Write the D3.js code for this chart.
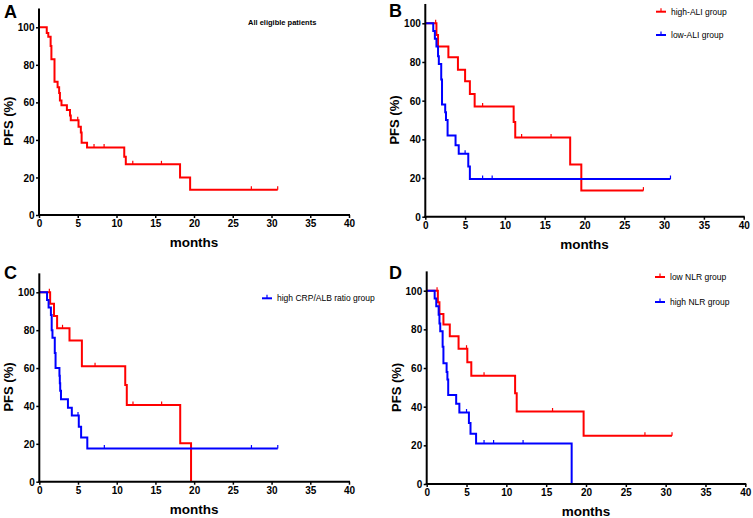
<!DOCTYPE html>
<html><head><meta charset="utf-8">
<script src="https://cdn.jsdelivr.net/npm/d3@7"></script>
<style>body{margin:0;background:#fff}svg{display:block}text{font-family:"Liberation Sans",Arial,sans-serif}</style>
</head><body>
<script>
// ---------- data ----------
const xTicks = [0,5,10,15,20,25,30,35,40];
const yTicks = [0,20,40,60,80,100];

// Panel A: all eligible patients
const timesA = [0,1.0,1.2,1.5,1.6,2.0,2.4,2.6,2.7,2.9,3.6,4.0,4.1,5.1,5.4,5.5,6.2,11.0,11.2,18.2,19.5,30.8];
const survA  = [100,97,95,90,83,71,68,65,61,58.5,56,53,50.5,47,44,38.5,36,31,27,20,13.5,13.5];
const censA  = [5.0,7.1,8.4,12.1,15.8,27.4,30.8];

// Panel B: ALI
const timesBhigh = [0,1.4,1.6,2.9,4.1,5.0,5.6,6.2,11.1,11.3,18.2,19.6,27.4];
const survBhigh  = [100,94,88,82.5,76,70,63.5,57,49,41,27,13.5,13.5];
const censBhigh  = [1.3,7.2,12.1,15.8,27.4];
const timesBlow  = [0,1.0,1.2,1.4,1.6,1.7,2.0,2.1,2.5,2.6,2.8,3.8,4.2,5.4,5.6,30.8];
const survBlow   = [100,96,92,88,83,79,71,58,54,50,42,37,32.5,26,19.5,19.5];
const censBlow   = [5.0,7.2,8.4,30.8];

// Panel C: CRP/ALB
const timesClow  = [0,1.4,1.9,2.3,3.9,5.5,11.1,11.3,18.2,19.6];
const survClow   = [100,94,87.5,81,74.5,61,51,40.5,20.3,0];
const censClow   = [1.3,3.0,7.2,12.1,15.8];
const timesChigh = [0,1.0,1.2,1.5,1.6,1.7,2.0,2.1,2.6,2.65,2.7,2.8,3.7,4.2,5.1,5.4,6.2,30.8];
const survChigh  = [100,96,92,88,80,76,68,60,56,52,48,43.5,39,35,29,23.3,17.5,17.5];
const censChigh  = [5.0,8.4,27.4,30.8];

// Panel D: NLR
const timesDlow  = [0,1.4,1.6,2.1,2.9,4.0,5.1,5.6,11.1,11.3,19.7,30.8];
const survDlow   = [100,94,88,82.5,76.5,70,63,56,47,37.5,25,25];
const censDlow   = [1.3,5.0,7.2,15.8,27.4,30.8];
const timesDhigh = [0,1.0,1.2,1.5,1.6,1.7,2.0,2.1,2.5,2.6,2.7,3.7,4.1,5.3,5.5,6.2,18.2];
const survDhigh  = [100,96,92,87.5,83,79,71,62.5,58,54,46,41.5,37,31.5,26,21,0];
const censDhigh  = [5.0,7.2,8.4,12.1];

const RED = "#ff0000", BLUE = "#0000ff";

// ---------- layout ----------
const panels = [
  {label:"A", x0:39, x1:349, y0:215, y100:27.3, lx:4, ly:18,
   series:[{t:timesA,s:survA,c:censA,color:RED}],
   note:{text:"All eligible patients", x:248, y:25}, legend:[]},
  {label:"B", x0:425.3, x1:743.7, y0:216.7, y100:23.3, lx:389, ly:17,
   series:[{t:timesBhigh,s:survBhigh,c:censBhigh,color:RED},{t:timesBlow,s:survBlow,c:censBlow,color:BLUE}],
   legend:[{name:"high-ALI group",color:RED,x:656,y:11.7},{name:"low-ALI group",color:BLUE,x:656,y:35}]},
  {label:"C", x0:39.3, x1:349, y0:481.7, y100:292.3, lx:4, ly:279,
   series:[{t:timesClow,s:survClow,c:censClow,color:RED},{t:timesChigh,s:survChigh,c:censChigh,color:BLUE}],
   legend:[{name:"high CRP/ALB ratio group",color:BLUE,x:262,y:298.3}]},
  {label:"D", x0:426.7, x1:745.3, y0:484, y100:290.7, lx:389, ly:279,
   series:[{t:timesDlow,s:survDlow,c:censDlow,color:RED},{t:timesDhigh,s:survDhigh,c:censDhigh,color:BLUE}],
   legend:[{name:"low NLR group",color:RED,x:655,y:277},{name:"high NLR group",color:BLUE,x:655,y:302}]}
];

const svg = d3.select("body").append("svg").attr("width",753).attr("height",518);

panels.forEach(p => {
  const x = d3.scaleLinear().domain([0,40]).range([p.x0,p.x1]);
  const k = (p.y0 - p.y100)/100;
  const y = d3.scaleLinear().domain([0,110]).range([p.y0, p.y0 - 110*k]);
  const g = svg.append("g");

  // curves
  p.series.forEach(s => {
    const pts = s.t.map((t,i)=>[t,s.s[i]]);
    g.append("path").datum(pts)
      .attr("d", d3.line().x(d=>x(d[0])).y(d=>y(d[1])).curve(d3.curveStepAfter))
      .attr("fill","none").attr("stroke",s.color).attr("stroke-width",2);
    const stepVal = t => { let v = s.s[0]; s.t.forEach((tt,i)=>{ if (tt<=t) v = s.s[i]; }); return v; };
    g.selectAll(null).data(s.c).enter().append("line")
      .attr("x1",d=>x(d)).attr("x2",d=>x(d))
      .attr("y1",d=>y(stepVal(d))-3.5).attr("y2",d=>y(stepVal(d)))
      .attr("stroke",s.color).attr("stroke-width",1.2);
  });

  // axes
  const ax = g.append("g").attr("transform",`translate(0,${p.y0})`)
    .call(d3.axisBottom(x).tickValues(xTicks).tickSize(3).tickPadding(2).tickFormat(d3.format("d")));
  const ay = g.append("g").attr("transform",`translate(${p.x0},0)`)
    .call(d3.axisLeft(y).tickValues(yTicks).tickSize(3).tickPadding(1.5).tickFormat(d3.format("d")));
  [ax,ay].forEach(a=>{
    a.select(".domain").remove();
    a.selectAll(".tick line").attr("stroke","#000").attr("stroke-width",1.5);
    a.selectAll(".tick text").attr("font-size",10).attr("font-weight","bold").attr("fill","#000")
      .attr("font-family",'"Liberation Sans",Arial,sans-serif');
  });
  ay.selectAll(".tick text").attr("dy","0.36em");
  g.append("line").attr("x1",p.x0).attr("x2",p.x0).attr("y1",p.y0+1).attr("y2",y(110))
    .attr("stroke","#000").attr("stroke-width",2);
  g.append("line").attr("x1",p.x0-1).attr("x2",p.x1+1).attr("y1",p.y0).attr("y2",p.y0)
    .attr("stroke","#000").attr("stroke-width",2);

  // axis titles
  g.append("text").attr("x",(p.x0+p.x1)/2).attr("y",p.y0+32).attr("text-anchor","middle")
    .attr("font-size",13.5).attr("font-weight","bold").text("months");
  g.append("text").attr("transform",`translate(${p.x0-26},${(p.y0+p.y100)/2}) rotate(-90)`)
    .attr("text-anchor","middle").attr("font-size",13).attr("font-weight","bold").text("PFS (%)");

  // panel label
  g.append("text").attr("x",p.lx).attr("y",p.ly).attr("font-size",18).attr("font-weight","bold").text(p.label);

  if (p.note) g.append("text").attr("x",p.note.x).attr("y",p.note.y).attr("font-size",7.5)
    .attr("font-weight","bold").text(p.note.text);

  p.legend.forEach(l => {
    g.append("line").attr("x1",l.x).attr("x2",l.x+10).attr("y1",l.y).attr("y2",l.y)
      .attr("stroke",l.color).attr("stroke-width",2);
    g.append("line").attr("x1",l.x+5).attr("x2",l.x+5).attr("y1",l.y-3.5).attr("y2",l.y)
      .attr("stroke",l.color).attr("stroke-width",1.2);
    g.append("text").attr("x",l.x+15).attr("y",l.y+3).attr("font-size",8.5).text(l.name);
  });
});
</script>
</body></html>
